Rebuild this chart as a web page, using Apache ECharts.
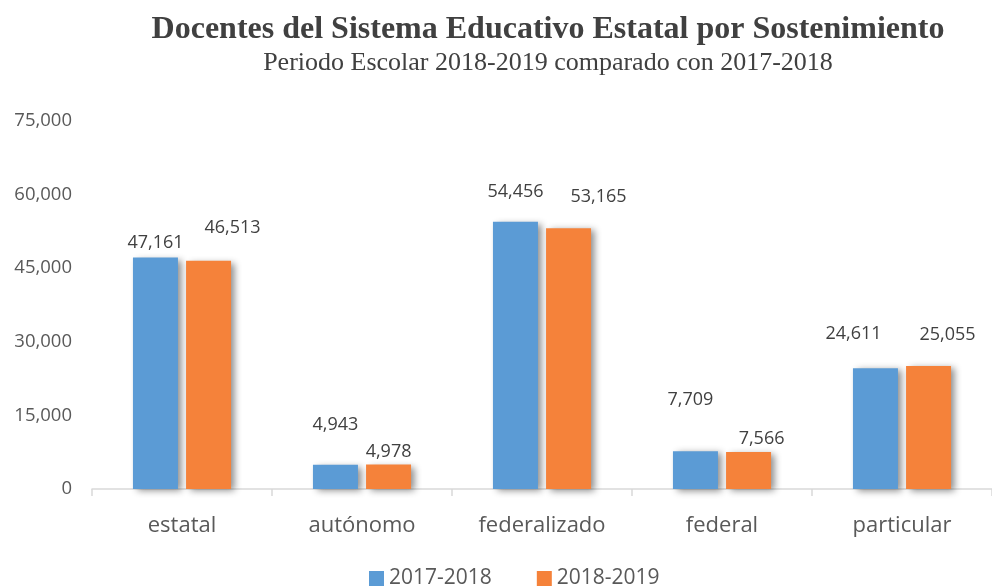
<!DOCTYPE html>
<html>
<head>
<meta charset="utf-8">
<script src="https://cdn.jsdelivr.net/npm/echarts@6/dist/echarts.min.js"></script>
<style>
  html, body { margin: 0; padding: 0; background: #fff; }
  #chart { width: 992px; height: 586px; }
</style>
</head>
<body>
<div id="chart"></div>
<script>
// datos
const categories = ['estatal', 'autónomo', 'federalizado', 'federal', 'particular']
const seriesNames = ['2017-2018', '2018-2019']
const docentes2017 = [47161, 4943, 54456, 7709, 24611]
const docentes2018 = [46513, 4978, 53165, 7566, 25055]
const yTicks = [0, 15000, 30000, 45000, 60000, 75000]

// desplazamiento de etiquetas (como en el original)
const labelShift2017 = [[0, -2], [0, -27], [0, -17], [-5, -38], [-22, -21]]
const labelShift2018 = [[24, -20], [0, 0], [30, -18], [13, 0], [19, -18]]

const textColor = '#595959'
const fmt = v => v.toLocaleString('en-US')

function buildData(values, shifts) {
  return values.map((v, i) => ({
    value: v,
    label: { offset: shifts[i] }
  }))
}

function barSeries(name, values, shifts, color) {
  return {
    name: name,
    type: 'bar',
    barWidth: 45,
    barGap: '18%',
    data: buildData(values, shifts),
    itemStyle: {
      color: color,
      shadowColor: 'rgba(0,0,0,0.45)',
      shadowBlur: 7,
      shadowOffsetX: 4,
      shadowOffsetY: 2
    },
    label: {
      show: true,
      position: 'top',
      distance: 4,
      color: '#404040',
      fontFamily: 'Open Sans',
      fontSize: 18,
      formatter: p => fmt(p.value)
    }
  }
}

const chart = echarts.init(document.getElementById('chart'))
chart.setOption({
  animation: false,
  title: {
    text: 'Docentes del Sistema Educativo Estatal por Sostenimiento',
    subtext: 'Periodo Escolar 2018-2019 comparado con 2017-2018',
    left: 543,
    textAlign: 'center',
    top: 9,
    itemGap: 4,
    textStyle: {
      fontFamily: 'Liberation Serif',
      fontWeight: 'bold',
      fontSize: 32,
      color: '#404040'
    },
    subtextStyle: {
      fontFamily: 'Liberation Serif',
      fontSize: 26,
      color: '#404040'
    }
  },
  legend: {
    data: seriesNames,
    bottom: -8,
    left: 364,
    itemWidth: 15,
    itemHeight: 15,
    itemGap: 45,
    icon: 'rect',
    textStyle: { fontFamily: 'Open Sans', fontSize: 21, color: textColor }
  },
  grid: {
    left: 92,
    top: 121,
    bottom: 97,
    width: 905
  },
  xAxis: {
    type: 'category',
    data: categories,
    axisLine: { lineStyle: { color: '#d9d9d9', width: 1.5 } },
    axisTick: { show: true, length: 7, lineStyle: { color: '#d9d9d9', width: 1.5 } },
    axisLabel: {
      color: textColor,
      fontFamily: 'Open Sans',
      fontSize: 22,
      margin: 26
    }
  },
  yAxis: {
    type: 'value',
    min: yTicks[0],
    max: yTicks[yTicks.length - 1],
    interval: yTicks[1] - yTicks[0],
    axisLine: { show: false },
    axisTick: { show: false },
    splitLine: { show: false },
    axisLabel: {
      color: textColor,
      fontFamily: 'Open Sans',
      fontSize: 18.5,
      margin: 20,
      formatter: v => fmt(v)
    }
  },
  series: [
    barSeries(seriesNames[0], docentes2017, labelShift2017, '#5B9BD5'),
    barSeries(seriesNames[1], docentes2018, labelShift2018, '#F5823A')
  ]
})
</script>
</body>
</html>
